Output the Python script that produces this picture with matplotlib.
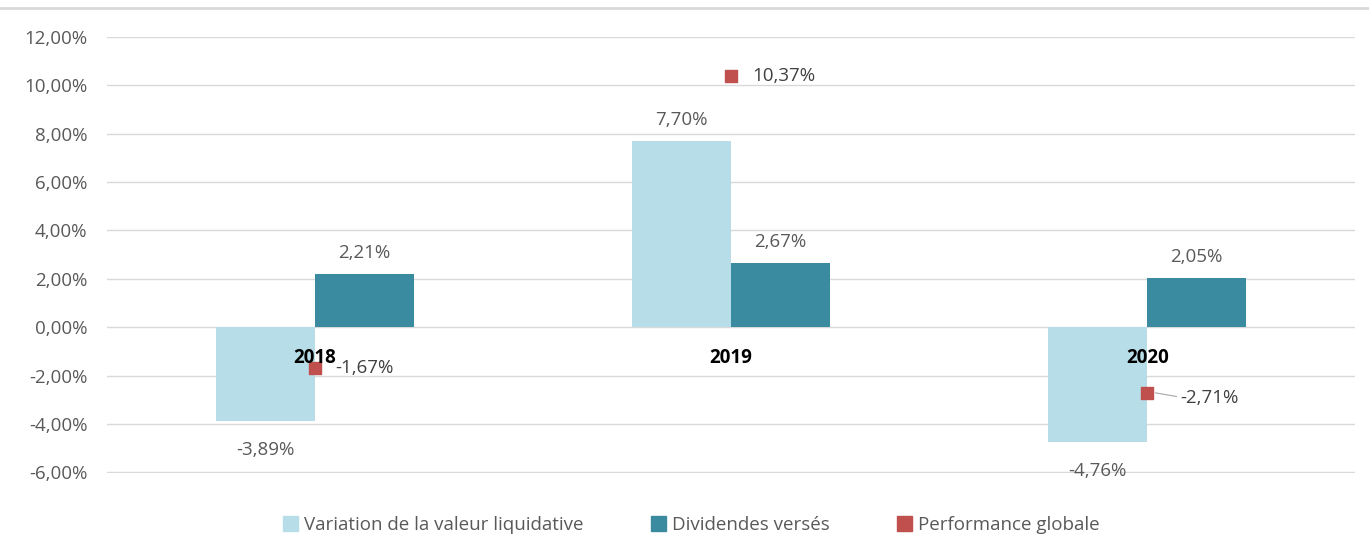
import matplotlib
matplotlib.use("Agg")
from matplotlib import pyplot as plt
from matplotlib.lines import Line2D
from matplotlib.patches import Patch
import numpy as np

years = ["2018", "2019", "2020"]
variation = [-3.89, 7.70, -4.76]
dividendes = [2.21, 2.67, 2.05]
performance = [-1.67, 10.37, -2.71]
yticks = [-6, -4, -2, 0, 2, 4, 6, 8, 10, 12]

c_var = "#B7DEE8"
c_div = "#3A8BA0"
c_perf = "#C0504D"
c_txt = "#595959"

def fr(v):
  return ("%.2f%%" % v).replace(".", ",")

plt.rcParams['font.family'] = ['Open Sans', 'DejaVu Sans']
fs = 13.5

fig = plt.figure(figsize=(13.69, 5.35), dpi=100)
ax = fig.add_axes([0.078, 0.116, 0.912, 0.815])

x = np.arange(len(years))
w = 0.238
ax.bar(x - w/2, variation, w, color=c_var, zorder=2)
ax.bar(x + w/2, dividendes, w, color=c_div, zorder=2)
ax.scatter(x, performance, marker="s", s=75, color=c_perf, zorder=3)

ax.set_xlim(-0.5, 2.5)
ax.set_ylim(-6.02, 12)
ax.set_yticks(yticks)
ax.set_yticklabels([fr(v) for v in yticks], color=c_txt, fontsize=fs)
ax.set_xticks([])
ax.tick_params(axis="y", length=0, pad=14)
ax.grid(axis="y", color="#D9D9D9", lw=1, zorder=0)
for s in ax.spines.values():
  s.set_visible(False)

# year labels next to the zero axis
for i, yr in enumerate(years):
  ax.text(i, -1.25, yr, ha="center", va="center", fontsize=fs, fontweight="bold", color="black", zorder=4)

# bar labels
for i, v in enumerate(variation):
  off = 0.5 if v >= 0 else -0.8
  ax.text(i - w/2, v + off, fr(v), ha="center", va="bottom" if v >= 0 else "top", fontsize=fs, color=c_txt)
for i, v in enumerate(dividendes):
  ax.text(i + w/2, v + 0.5, fr(v), ha="center", va="bottom", fontsize=fs, color=c_txt)

# performance labels to the right of the markers
ax.text(0 + 0.05, performance[0], fr(performance[0]), ha="left", va="center", fontsize=fs, color="#404040", zorder=4)
ax.text(1 + 0.05, performance[1], fr(performance[1]), ha="left", va="center", fontsize=fs, color="#404040")
ax.plot([2.02, 2.07], [performance[2], performance[2] - 0.15], color="#A6A6A6", lw=0.8, zorder=2)
ax.text(2 + 0.08, performance[2] - 0.2, fr(performance[2]), ha="left", va="center", fontsize=fs, color="#404040")

fig.add_artist(Line2D([0, 1], [0.985, 0.985], color="#D9D9D9", lw=2, transform=fig.transFigure))

handles = [Patch(color=c_var), Patch(color=c_div), Patch(color=c_perf)]
leg = fig.legend(handles, ["Variation de la valeur liquidative", "Dividendes versés", "Performance globale"],
  loc="lower center", bbox_to_anchor=(0.505, -0.03), ncol=3, frameon=False,
  fontsize=fs, handlelength=0.8, handleheight=0.8, handletextpad=0.3, columnspacing=3.6)
for t in leg.get_texts():
  t.set_color(c_txt)

fig.savefig("out.png", dpi=100)
